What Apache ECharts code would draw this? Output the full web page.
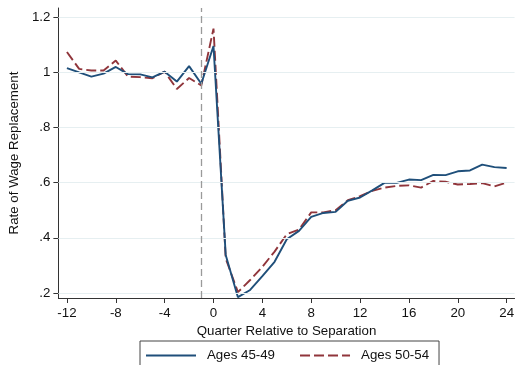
<!DOCTYPE html>
<html>
<head>
<meta charset="utf-8">
<script src="https://cdn.jsdelivr.net/npm/echarts@6/dist/echarts.min.js"></script>
<style>html,body{margin:0;padding:0;background:#fff;}#c{width:517px;height:365px;}</style>
</head>
<body>
<div id="c"></div>
<script>
var quarters = [-12,-11,-10,-9,-8,-7,-6,-5,-4,-3,-2,-1,0,1,2,3,4,5,6,7,8,9,10,11,12,13,14,15,16,17,18,19,20,21,22,23,24];
var ages4549 = [1.015,0.999,0.984,0.995,1.019,0.993,0.992,0.981,1.002,0.966,1.022,0.958,1.095,0.338,0.185,0.211,0.261,0.313,0.395,0.425,0.476,0.490,0.494,0.534,0.546,0.572,0.599,0.599,0.611,0.609,0.628,0.627,0.641,0.644,0.665,0.656,0.653];
var ages5054 = [1.073,1.012,1.006,1.006,1.042,0.984,0.982,0.978,1.002,0.939,0.979,0.952,1.158,0.325,0.203,0.247,0.295,0.350,0.413,0.430,0.492,0.492,0.500,0.536,0.551,0.570,0.582,0.588,0.590,0.582,0.606,0.603,0.593,0.595,0.598,0.586,0.600];
var xTicks = [-12,-8,-4,0,4,8,12,16,20,24];
var yTicks = [0.2,0.4,0.6,0.8,1.0,1.2];
var separationQuarter = -1;

function pairs(ys){ return quarters.map(function(q,i){ return [q, ys[i]]; }); }
var font = 'Liberation Sans, Arial, Helvetica, sans-serif';
var chart = echarts.init(document.getElementById('c'), null, {renderer:'canvas'});
chart.setOption({
  animation: false,
  backgroundColor: '#ffffff',
  grid: {left: 57, right: 0, top: 8, bottom: 67, containLabel: false},
  legend: {
    left: 140, top: 341,
    padding: [8, 10, 8, 5],
    itemWidth: 50, itemHeight: 14, itemGap: 24,
    borderColor: '#444', borderWidth: 1, borderRadius: 0,
    itemStyle: {opacity: 0},
    textStyle: {fontFamily: font, fontSize: 13.3, color: '#111', padding: [0,0,0,6]},
    data: ['Ages 45-49', 'Ages 50-54']
  },
  xAxis: {
    type: 'value', min: -12.7, max: 24.65,
    name: 'Quarter Relative to Separation', nameLocation: 'middle', nameGap: 23,
    nameTextStyle: {fontFamily: font, fontSize: 13.3, color: '#111'},
    axisLine: {show: true, onZero: false, lineStyle: {color: '#333', width: 1}},
    axisTick: {show: true, length: 5, customValues: xTicks, lineStyle: {color: '#333'}},
    axisLabel: {customValues: xTicks, margin: 9, fontFamily: font, fontSize: 13.3, color: '#111'},
    splitLine: {show: false}
  },
  yAxis: {
    type: 'value', min: 0.1819, max: 1.2326,
    name: 'Rate of Wage Replacement', nameLocation: 'middle', nameGap: 32, nameRotate: 90,
    nameTextStyle: {fontFamily: font, fontSize: 13.3, color: '#111'},
    axisLine: {show: true, onZero: false, lineStyle: {color: '#333', width: 1}},
    axisTick: {show: true, length: 5, customValues: yTicks, lineStyle: {color: '#333'}},
    axisLabel: {customValues: yTicks, margin: 8, fontFamily: font, fontSize: 13.3, color: '#111',
      formatter: function(v){ var s = String(Math.round(v*10)/10); return s.replace(/^0\./, '.'); }},
    splitLine: {show: false}
  },
  series: [
    {
      name: 'gridlines', type: 'line', data: [], z: 1, silent: true,
      markLine: {
        silent: true, symbol: ['none','none'], label: {show: false},
        lineStyle: {color: '#e6eff1', width: 1, type: 'solid'},
        data: yTicks.map(function(v){ return {yAxis: v}; })
      }
    },
    {
      name: 'separation', type: 'line', data: [], z: 2, silent: true,
      markLine: {
        silent: true, symbol: ['none','none'], label: {show: false},
        lineStyle: {color: '#9a9a9a', width: 1.3, type: [7,4]},
        data: [{xAxis: separationQuarter}]
      }
    },
    {
      name: 'Ages 45-49', type: 'line', data: pairs(ages4549), z: 4,
      symbol: 'none', showSymbol: false,
      lineStyle: {color: '#1f4f7a', width: 1.9},
      itemStyle: {color: '#1f4f7a'}
    },
    {
      name: 'Ages 50-54', type: 'line', data: pairs(ages5054), z: 3,
      symbol: 'none', showSymbol: false,
      lineStyle: {color: '#90353b', width: 1.9, type: [10,4]},
      itemStyle: {color: '#90353b'}
    }
  ]
});
</script>
</body>
</html>
